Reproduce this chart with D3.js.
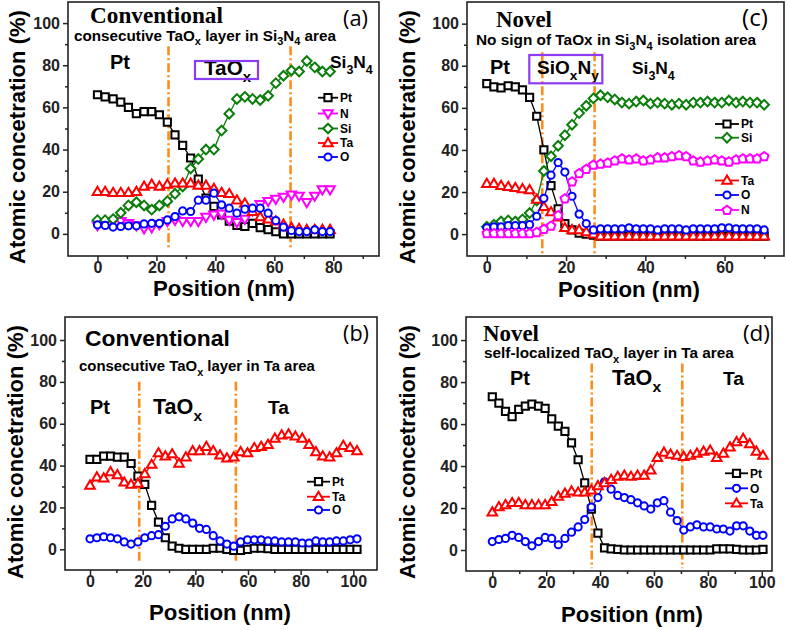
<!DOCTYPE html>
<html><head><meta charset="utf-8">
<script src="https://cdn.jsdelivr.net/npm/d3@7"></script>
<style>body{margin:0;background:#fff} svg{display:block}</style>
</head><body>
<svg id="chart" width="787" height="630"></svg>
<script>
// ---------------- DATA ----------------
// Panel (a): Conventional, Si3N4 area
const a_x  = [0,2.6,5.3,7.9,10.5,13.2,15.8,18.4,21,23.7,26.3,28.9,31.6,34.2,36.8,39.5,42.1,44.7,47.3,50,52.6,55.2,57.9,60.5,63.1,65.8,68.4,71,73.7,76.3,78.9];
const a_Pt = [66,65,64,62.5,60,57,58,58,56.5,53,47,42,36,26,17,13,9,6,4,3.5,5,3,2,1,0,0,0,0,0,0,0];
const a_N  = [4,5,6,6,5,4,2.5,3,4.5,6,6.5,6,6,6,8,9,9.5,6.5,5.5,7,11,14,15.5,16.5,17.5,18.5,18,15,18,21,21];
const a_Si = [6.5,6.5,7,10,13.5,15,13.5,11.5,13.5,15.5,19,22.5,31,35.5,40,40,49,57,64,65,64,63.5,65.5,71.5,75,77.5,77,82,79,77,77];
const a_Ta = [20,20,19.5,19.5,19.5,20,22.5,23.5,22.5,23.5,24,24,24,23,23,21.5,19.5,19,16,14.5,10.5,8,7,6,4.5,3,2.5,2,2,2,2];
const a_O  = [4.3,4,3.2,3.5,3.8,3.8,4.7,5,5,6.6,8.2,10.9,10.6,16,16,19.3,13.8,12.2,9.8,11.7,12.2,12.2,9.8,6.3,3.2,1.6,1.1,1.1,1.9,1.1,1.1];
const a_bounds = [24.1, 65.5];

// Panel (c): Novel, Si3N4 isolation area
const c_x  = [0,1.8,3.6,5.4,7.2,9,10.8,12.6,14.4,16.2,18,19.7,21.5,23.3,25.1,26.9,28.7,30.5,32.3,34.1,35.9,37.7,39.5,41.3,43.1,44.9,46.7,48.5,50.3,52.1,53.9,55.7,57.5,59.3,61.1,62.9,64.6,66.4,68.2,70];
const c_Pt = [71.5,70,69.5,70.5,70,68.5,65,56,40,23,12,5,2,0.5,0,-0.5,-1,-1,-1,-1,-1,-1,-1,-1,-1,-1,-1,-1,-1,-1,-1,-1,-1,-1,-1,-1,-1,-1,-1,-1];
const c_Si = [3.5,4.5,6,6.5,6,7,10,16,30,37,42,47,52,57.5,61,64.5,66,65,64,62.5,62,63,63.5,62,62.5,62,61.5,62,61.5,62.5,62.5,63,62.5,62.5,63.5,62.5,63,62.5,62.5,61.5];
const c_Ta = [24,24,23,22.5,22,21.5,21,16.5,13,10.5,8,3,2,2,1,0,-1,-1,-1,-1,-1,-1,-1,-1,-1,-1,-1,-1,-1,-1,-1,-1,-1,-1,-1,-1,-1,-1,-1,-1];
const c_O  = [3,3.5,3.5,4,4,4,4.5,8.5,17,28,34,29.5,18,9.5,5,2,2.5,2.5,2.5,2.5,3,2.5,2.5,2.5,2,2.5,2.5,2.5,2,2.5,2.5,2.5,2.5,3,3,2.5,2.5,2.5,2.5,2];
const c_N  = [0.5,0.5,0.5,0.5,0.5,0.5,0.5,1,2.5,4,9,17,25,29,31,33,33.5,34,35,36,35.5,36,35,35.5,36.5,36.5,37,37.5,37,35,34.5,35,35.5,35,34.5,35.5,36,36,36,37];
const c_bounds = [14, 27.2];

// Panel (b): Conventional, Ta area
const b_x  = [0,2.6,5.2,7.8,10.4,13,15.6,18.2,20.8,23.4,26,28.6,31.2,33.8,36.4,39,41.6,44.2,46.8,49.4,52,54.6,57.2,59.8,62.4,65,67.6,70.2,72.8,75.4,78,80.6,83.2,85.8,88.4,91,93.6,96.2,98.8,101.4];
const b_Pt = [43,43,44.5,44.5,44,44,41,35,31,21,13,5.5,1.5,0.5,0,0,0,0,0.5,0.5,0,-0.5,-0.5,0,0.5,0.5,0.3,0,0,0,0,0,0,0,0,0,0,0,0,0];
const b_Ta = [30.5,34.5,34,37,35.5,32,31,31.5,36,40.5,46,44.5,45.5,41,44,47,47,49,47,45,43.5,44,46.5,46,48.5,49,50,53,54.5,55,54,53,50,46.5,44.5,44,46,49.5,48.5,47];
const b_O  = [5,5.5,6,5.5,5,3.5,2.5,3.5,5.5,6.5,7,11,14.5,15.5,14.5,12.5,10,9.5,6.5,4,2.5,1.5,3.5,4.5,4.5,4.5,4,4,3.5,3.5,3.5,3,3,4,3.5,3.5,4,4,4.5,5];
const b_bounds = [18.7, 55.4];

// Panel (d): Novel, Ta area
const d_x  = [0,2.45,4.9,7.35,9.8,12.25,14.7,17.15,19.6,22.05,24.5,26.95,29.4,31.85,34.3,36.75,39.2,41.65,44.1,46.55,49,51.45,53.9,56.35,58.8,61.25,63.7,66.15,68.6,71.05,73.5,75.95,78.4,80.85,83.3,85.75,88.2,90.65,93.1,95.55,98,100.45];
const d_Pt = [73,70,66,63.5,67,68.5,69.5,68.5,67.5,62.5,59,56.5,51,43,32,19.5,8,1,0.5,0.3,0,0,0,0,0,0,0,0,0,0,0,0,0,0,0.5,0.5,0.5,0.3,0,0,0,0.3];
const d_O  = [4,5,5.5,7,6,4,2,4,6,5.5,2.5,5.5,8.5,11,14.5,20.5,25,32.5,29,26,25,24,22.5,21,19.5,22.5,23.5,18,14,9.5,11,12,11,11,10,10,9,11.5,11.5,9,7,7];
const d_Ta = [18,20.5,21.5,22.5,22.5,21.5,21.5,21.5,21.5,23,25.5,27,28,27.5,27.5,28.5,30.5,32,33.5,35,35.5,35,35.5,35.5,38,44,46.5,45.5,45,44.5,45,46,47,47.5,44,46,49,51.5,53,50.5,47,45];
const d_bounds = [36.9, 70.5];

const yTicksMajor = [0,20,40,60,80,100];
const yTicksMinor = [10,30,50,70,90];

// ---------------- STYLE ----------------
const SANS = "'Liberation Sans', Arial, sans-serif";
const SERIF = "'Liberation Serif', 'Times New Roman', serif";
const LABEL = "'Open Sans', 'DejaVu Sans', sans-serif";
const COL = {Pt:'#000000', N:'#ff00ff', Si:'#0b7d0b', Ta:'#ff0000', O:'#0000ff'};
const ORANGE = '#ff8c1a';
const PURPLE = '#8e3cf0';

const svg = d3.select('#chart');

function pentagon(r){
  const pts = d3.range(5).map(k=>{const a=-Math.PI/2+k*2*Math.PI/5;return [r*Math.cos(a), r*Math.sin(a)+0.4];});
  return 'M'+pts.map(p=>p[0].toFixed(2)+','+p[1].toFixed(2)).join('L')+'Z';
}
function shapePath(shape){
  switch(shape){
    case 'square': return 'M-3.6,-3.6H3.6V3.6H-3.6Z';
    case 'circle': return 'M3.6,0A3.6,3.6 0 1,1 -3.6,0A3.6,3.6 0 1,1 3.6,0Z';
    case 'tri': return 'M0,-4.9L4.8,3.3L-4.8,3.3Z';
    case 'tridown': return 'M0,4.9L4.8,-3.3L-4.8,-3.3Z';
    case 'diamond': return 'M0,-4.8L4.8,0L0,4.8L-4.8,0Z';
    case 'pent': return pentagon(4.6);
  }
}

function rich(g, parts, x, y, size, family, weight, anchor){
  const t = g.append('text').attr('x',x).attr('y',y)
    .attr('font-family',family).attr('font-weight',weight)
    .attr('font-size',size).attr('text-anchor',anchor||'start').attr('fill','#000');
  let shift = 0;
  parts.forEach(p=>{
    const s = t.append('tspan').text(p[0]);
    if (p[1]==='sub'){
      const d = size*0.32;
      s.attr('dy', d-shift).attr('font-size', size*0.72);
      shift = d;
    } else {
      if (shift) s.attr('dy', -shift);
      shift = 0;
    }
  });
  return t;
}
function fitText(g, parts, x, y, size, family, weight, width, anchor){
  const t = rich(g, parts, x, y, size, family, weight, anchor);
  const w = t.node().getBBox().width;
  t.remove();
  return rich(g, parts, x, y, size*width/w, family, weight, anchor);
}

function drawPanel(cfg){
  const g = svg.append('g');
  const x = d3.scaleLinear().domain(cfg.xDomain).range([cfg.left, cfg.right]);
  const y = d3.scaleLinear().domain(cfg.yDomain).range([cfg.bottom, cfg.top]);

  const gx = g.append('g').attr('transform',`translate(0,${cfg.bottom})`)
    .call(d3.axisBottom(x).tickValues(cfg.xTicks).tickSize(5).tickPadding(1).tickFormat(d3.format('d')));
  const gxm = g.append('g').attr('transform',`translate(0,${cfg.bottom})`)
    .call(d3.axisBottom(x).tickValues(cfg.xMinor).tickSize(3).tickFormat(''));
  const gy = g.append('g').attr('transform',`translate(${cfg.left},0)`)
    .call(d3.axisLeft(y).tickValues(yTicksMajor).tickSize(5).tickPadding(3).tickFormat(d3.format('d')));
  const gym = g.append('g').attr('transform',`translate(${cfg.left},0)`)
    .call(d3.axisLeft(y).tickValues(yTicksMinor).tickSize(3).tickFormat(''));
  [gx,gxm,gy,gym].forEach(a=>{
    a.select('.domain').remove();
    a.selectAll('line').attr('stroke','#222').attr('stroke-width',1.5);
    a.selectAll('text').attr('font-family',SANS).attr('font-weight','bold').attr('font-size',16).attr('fill','#222');
  });

  g.append('rect').attr('x',cfg.left).attr('y',cfg.top)
    .attr('width',cfg.right-cfg.left).attr('height',cfg.bottom-cfg.top)
    .attr('fill','none').attr('stroke','#222').attr('stroke-width',1.6);

  const cid = 'clip'+cfg.id;
  g.append('clipPath').attr('id',cid).append('rect')
    .attr('x',cfg.left).attr('y',cfg.top).attr('width',cfg.right-cfg.left).attr('height',cfg.bottom-cfg.top);

  cfg.bounds.forEach(b=>{
    g.append('line').attr('x1',x(b)).attr('x2',x(b))
      .attr('y1',y(cfg.vTop)).attr('y2',y(cfg.vBottom))
      .attr('stroke',ORANGE).attr('stroke-width',2.6)
      .attr('stroke-dasharray','9,3,2,3');
  });

  const dg = g.append('g').attr('clip-path',`url(#${cid})`);
  cfg.series.forEach(s=>{
    const pts = cfg.xs.map((v,i)=>[v, s.values[i]]);
    dg.append('path').attr('d', d3.line().x(d=>x(d[0])).y(d=>y(d[1]))(pts))
      .attr('fill','none').attr('stroke',COL[s.name]).attr('stroke-width',1.3);
    dg.selectAll(null).data(pts).enter().append('path')
      .attr('d', shapePath(s.shape))
      .attr('transform', d=>`translate(${x(d[0])},${y(d[1])})`)
      .attr('fill','#fff').attr('stroke',COL[s.name]).attr('stroke-width',2);
  });

  cfg.series.forEach((s,i)=>{
    const ly = cfg.legend.rows[i];
    g.append('line').attr('x1',cfg.legend.x1).attr('x2',cfg.legend.x2).attr('y1',ly).attr('y2',ly)
      .attr('stroke',COL[s.name]).attr('stroke-width',1.8);
    g.append('path').attr('d',shapePath(s.shape))
      .attr('transform',`translate(${(cfg.legend.x1+cfg.legend.x2)/2},${ly})`)
      .attr('fill','#fff').attr('stroke',COL[s.name]).attr('stroke-width',2);
    g.append('text').attr('x',cfg.legend.x2+2).attr('y',ly+4.2)
      .attr('font-family',SANS).attr('font-weight','bold').attr('font-size',12).text(s.name);
  });

  fitText(g.append('g').attr('transform',`translate(${cfg.yLabel[0]},${cfg.yLabel[1]}) rotate(-90)`),
    [['Atomic concetration (%)']], 0, 7.5, 21, SANS, 'bold', 254, 'middle');
  fitText(g, [['Position (nm)']], cfg.xLabel[0], cfg.xLabel[1], 20, SANS, 'bold', 142, 'middle');

  cfg.texts.forEach(t=>{
    fitText(g, t.parts, t.x, t.y, t.size, t.family||SANS, t.weight||'bold', t.w, 'start');
  });
  if (cfg.box){
    g.append('rect').attr('x',cfg.box[0]).attr('y',cfg.box[1]).attr('width',cfg.box[2]).attr('height',cfg.box[3])
      .attr('fill','none').attr('stroke',PURPLE).attr('stroke-width',2.2);
  }
}

// ---------------- PANELS ----------------
drawPanel({
  id:'a', left:68, right:379, top:2, bottom:256,
  xDomain:[-10,95.5], yDomain:[-10.5,110],
  xTicks:[0,20,40,60,80], xMinor:[10,30,50,70,90],
  xs:a_x,
  series:[
    {name:'Pt', values:a_Pt, shape:'square'},
    {name:'N',  values:a_N,  shape:'tridown'},
    {name:'Si', values:a_Si, shape:'diamond'},
    {name:'Ta', values:a_Ta, shape:'tri'},
    {name:'O',  values:a_O,  shape:'circle'}
  ],
  bounds:a_bounds, vTop:89, vBottom:-6.6,
  legend:{x1:318, x2:338, rows:[97.7,113.5,128.5,143,157]},
  yLabel:[17,137], xLabel:[224,295.5],
  box:[195,61,63,18],
  texts:[
    {parts:[['Conventional']], x:90, y:22.5, size:22, family:SERIF, w:133},
    {parts:[['(a)']], x:343, y:26, size:22, family:LABEL, weight:'normal', w:25},
    {parts:[['consecutive TaO'],['x','sub'],[' layer in Si'],['3','sub'],['N'],['4','sub'],[' area']], x:74, y:40.5, size:13, w:263},
    {parts:[['Pt']], x:110, y:69, size:18, w:20},
    {parts:[['TaO'],['x','sub']], x:204, y:75, size:18, w:48},
    {parts:[['Si'],['3','sub'],['N'],['4','sub']], x:330, y:68, size:17, w:43}
  ]
});

drawPanel({
  id:'c', left:467, right:784, top:2, bottom:256,
  xDomain:[-5,75], yDomain:[-10.4,110.3],
  xTicks:[0,20,40,60], xMinor:[10,30,50,70],
  xs:c_x,
  series:[
    {name:'Pt', values:c_Pt, shape:'square'},
    {name:'Si', values:c_Si, shape:'diamond'},
    {name:'Ta', values:c_Ta, shape:'tri'},
    {name:'O',  values:c_O,  shape:'circle'},
    {name:'N',  values:c_N,  shape:'pent'}
  ],
  bounds:c_bounds, vTop:86.4, vBottom:-10.4,
  legend:{x1:715, x2:739, rows:[124,137.7,180.5,195,210]},
  yLabel:[407,137], xLabel:[629,296.5],
  box:[529.3,55,73,28.3],
  texts:[
    {parts:[['Novel']], x:496, y:27, size:23, family:SERIF, w:56},
    {parts:[['(c)']], x:742, y:26, size:22, family:LABEL, weight:'normal', w:26},
    {parts:[['No sign of TaOx in Si'],['3','sub'],['N'],['4','sub'],[' isolation area']], x:476, y:45, size:13, w:281},
    {parts:[['Pt']], x:490, y:74, size:18, w:20},
    {parts:[['SiO'],['x','sub'],['N'],['y','sub']], x:537, y:74, size:17, w:62},
    {parts:[['Si'],['3','sub'],['N'],['4','sub']], x:632, y:74, size:17, w:43}
  ]
});

drawPanel({
  id:'b', left:65, right:377, top:317, bottom:570,
  xDomain:[-9.5,109], yDomain:[-9.9,111],
  xTicks:[0,20,40,60,80,100], xMinor:[10,30,50,70,90],
  xs:b_x,
  series:[
    {name:'Pt', values:b_Pt, shape:'square'},
    {name:'Ta', values:b_Ta, shape:'tri'},
    {name:'O',  values:b_O,  shape:'circle'}
  ],
  bounds:b_bounds, vTop:80, vBottom:-5.9,
  legend:{x1:307, x2:330, rows:[481.7,496.7,510]},
  yLabel:[15,452], xLabel:[220,619.5],
  texts:[
    {parts:[['Conventional']], x:85, y:346, size:21, w:145},
    {parts:[['(b)']], x:343, y:341, size:22, family:LABEL, weight:'normal', w:26},
    {parts:[['consecutive TaO'],['x','sub'],[' layer in Ta area']], x:79, y:371, size:13, w:237},
    {parts:[['Pt']], x:90, y:414, size:18, w:20},
    {parts:[['TaO'],['x','sub']], x:153, y:414, size:18, w:50},
    {parts:[['Ta']], x:268, y:414, size:18, w:22}
  ]
});

drawPanel({
  id:'d', left:466, right:772, top:317, bottom:571,
  xDomain:[-9.76,103.8], yDomain:[-10,111],
  xTicks:[0,20,40,60,80,100], xMinor:[10,30,50,70,90],
  xs:d_x,
  series:[
    {name:'Pt', values:d_Pt, shape:'square'},
    {name:'O',  values:d_O,  shape:'circle'},
    {name:'Ta', values:d_Ta, shape:'tri'}
  ],
  bounds:d_bounds, vTop:88.9, vBottom:-8.7,
  legend:{x1:725, x2:748, rows:[473.3,488.3,503.3]},
  yLabel:[407,452], xLabel:[632,621.5],
  texts:[
    {parts:[['Novel']], x:483, y:341, size:23, family:SERIF, w:56},
    {parts:[['(d)']], x:743, y:341, size:22, family:LABEL, weight:'normal', w:27},
    {parts:[['self-localized TaO'],['x','sub'],[' layer in Ta area']], x:484, y:358, size:13, w:251},
    {parts:[['Pt']], x:510, y:385, size:18, w:20},
    {parts:[['TaO'],['x','sub']], x:612, y:385, size:18, w:50},
    {parts:[['Ta']], x:723, y:385, size:18, w:22}
  ]
});
</script>
</body></html>
